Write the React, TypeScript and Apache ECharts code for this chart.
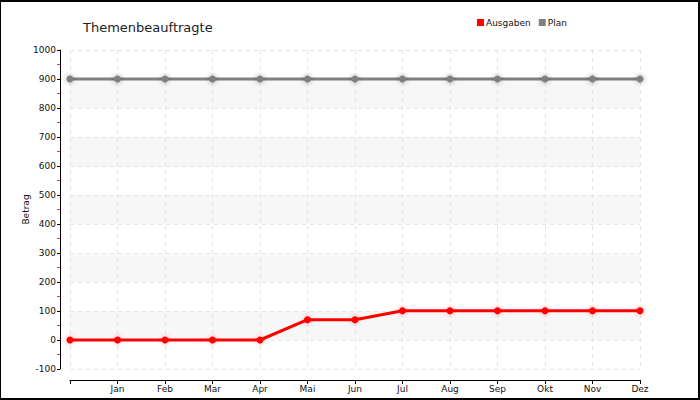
import React, { useEffect, useRef } from "react";
import * as echarts from "echarts";

const categories = ["", "Jan", "Feb", "Mar", "Apr", "Mai", "Jun", "Jul", "Aug", "Sep", "Okt", "Nov", "Dez"];
const ausgaben = [0, 0, 0, 0, 0, 70, 70, 101, 101, 101, 101, 101, 101];
const plan = [900, 900, 900, 900, 900, 900, 900, 900, 900, 900, 900, 900, 900];
const yMin = -100;
const yMax = 1000;
const yInterval = 100;

const FONT = "DejaVu Sans";

export default function App() {
  const ref = useRef<HTMLDivElement>(null);
  useEffect(() => {
    document.body.style.margin = "0";
    const chart = echarts.init(ref.current!, null, { renderer: "svg" });
    const dashed = { color: "#e4e4e4", type: [4, 4] as any, width: 1 };
    chart.setOption({
      animation: false,
      textStyle: { fontFamily: FONT },
      title: {
        text: "Themenbeauftragte",
        left: 78,
        top: 16,
        textStyle: { fontFamily: FONT, fontSize: 13, fontWeight: "normal", color: "#222" },
      },
      legend: {
        left: 472,
        top: 13,
        itemWidth: 7,
        itemHeight: 7,
        itemGap: 8,
        icon: "rect",
        textStyle: { fontFamily: FONT, fontSize: 9, color: "#111", padding: [0, 0, 0, -3] },
        data: [
          { name: "Ausgaben", itemStyle: { color: "#ff0000" } },
          { name: "Plan", itemStyle: { color: "#808080" } },
        ],
      },
      grid: { left: 70, right: 60, top: 50, bottom: 31 },
      xAxis: {
        type: "category",
        data: categories,
        boundaryGap: false,
        offset: 11,
        axisLine: { onZero: false, lineStyle: { color: "#000", width: 1 } },
        axisTick: { show: true, length: 4, inside: false, alignWithLabel: true, lineStyle: { color: "#000" } },
        axisLabel: { fontFamily: FONT, fontSize: 9, color: "#111", margin: 4, interval: 0 },
        splitLine: { show: true, lineStyle: dashed },
      },
      yAxis: {
        type: "value",
        min: yMin,
        max: yMax,
        interval: yInterval,
        offset: 10,
        name: "Betrag",
        nameLocation: "middle",
        nameGap: 30,
        nameMoveOverlap: false,
        nameTextStyle: { fontFamily: FONT, fontSize: 9, color: "#111" },
        axisLine: { show: true, onZero: false, lineStyle: { color: "#000", width: 1 } },
        axisTick: { show: true, length: 3, lineStyle: { color: "#000" } },
        minorTick: { show: true, splitNumber: 2, length: 3, lineStyle: { color: "#ff3333" } },
        axisLabel: { fontFamily: FONT, fontSize: 9, color: "#111", margin: 4, formatter: (v: number) => String(v) },
        splitLine: { show: true, lineStyle: dashed },
        splitArea: { show: true, areaStyle: { color: ["rgba(255,255,255,0)", "#f7f7f7"] } },
      },
      series: [
        {
          name: "Ausgaben",
          type: "line",
          data: ausgaben,
          symbol: "circle",
          symbolSize: 7,
          lineStyle: { color: "#ff0000", width: 3 },
          itemStyle: { color: "#ff0000", shadowBlur: 5, shadowColor: "rgba(255,0,0,0.4)" },
        },
        {
          name: "Plan",
          type: "line",
          data: plan,
          symbol: "circle",
          symbolSize: 7,
          lineStyle: { color: "#808080", width: 3 },
          itemStyle: { color: "#808080", shadowBlur: 5, shadowColor: "rgba(0,0,0,0.4)" },
        },
      ],
    });
    return () => chart.dispose();
  }, []);
  return (
    <div
      style={{
        width: 700,
        height: 400,
        boxSizing: "border-box",
        borderTop: "2px solid #000",
        borderRight: "2px solid #000",
        borderBottom: "2px solid #000",
        borderLeft: "1px solid #000",
        position: "relative",
        overflow: "hidden",
      }}
    >
      <div ref={ref} style={{ position: "absolute", left: -1, top: -2, width: 700, height: 400 }} />
    </div>
  );
}
